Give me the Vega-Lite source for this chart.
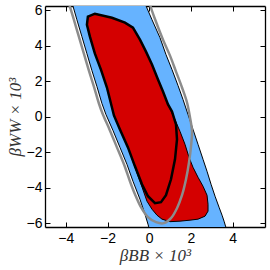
{
 "$schema": "https://vega.github.io/schema/vega-lite/v6.json",
 "width": 220, "height": 221,
 "autosize": {"type": "none"},
 "padding": {"left": 45, "top": 6, "right": 5, "bottom": 43},
 "background": "white",
 "config": {
  "view": {"stroke": null},
  "axis": {"domainColor": "black", "domainWidth": 1.3, "tickColor": "black", "tickWidth": 1, "grid": false,
           "labelFont": "Liberation Sans", "labelFontSize": 14, "labelColor": "black",
           "titleFont": "Liberation Serif", "titleFontStyle": "italic", "titleFontWeight": "normal", "titleFontSize": 17, "titleColor": "#333"}
 },
 "datasets": {
  "blue": [
   {"i":0,"x":-3.759,"y":6.601},{"i":1,"x":-0.278,"y":6.601},{"i":2,"x":-0.158,"y":6.264},{"i":3,"x":0.130,"y":5.478},
   {"i":4,"x":0.514,"y":4.466},{"i":5,"x":0.802,"y":3.511},{"i":6,"x":1.090,"y":2.669},{"i":7,"x":1.378,"y":1.770},
   {"i":8,"x":1.618,"y":0.983},{"i":9,"x":1.858,"y":0.140},{"i":10,"x":2.098,"y":-0.702},{"i":11,"x":2.338,"y":-1.545},
   {"i":12,"x":2.578,"y":-2.388},{"i":13,"x":2.770,"y":-3.062},{"i":14,"x":2.962,"y":-3.792},{"i":15,"x":3.154,"y":-4.466},
   {"i":16,"x":3.346,"y":-5.084},{"i":17,"x":3.490,"y":-5.534},{"i":18,"x":3.586,"y":-5.871},{"i":19,"x":3.730,"y":-6.433},
   {"i":20,"x":0.034,"y":-6.433},{"i":21,"x":-0.062,"y":-6.039},{"i":22,"x":-0.206,"y":-5.478},{"i":23,"x":-0.446,"y":-4.635},
   {"i":24,"x":-0.782,"y":-3.624},{"i":25,"x":-1.070,"y":-2.669},{"i":26,"x":-1.406,"y":-1.714},{"i":27,"x":-1.742,"y":-0.758},
   {"i":28,"x":-2.079,"y":0.140},{"i":29,"x":-2.270,"y":0.758},{"i":30,"x":-2.510,"y":1.714},{"i":31,"x":-2.750,"y":2.612},
   {"i":32,"x":-2.990,"y":3.567},{"i":33,"x":-3.230,"y":4.522},{"i":34,"x":-3.471,"y":5.478},{"i":35,"x":-3.663,"y":6.264},
   {"i":36,"x":-3.759,"y":6.601}
  ],
  "red": [
   {"i":0,"x":-2.943,"y":5.646},{"i":1,"x":-2.607,"y":5.815},{"i":2,"x":-1.790,"y":5.590},{"i":3,"x":-1.166,"y":5.309},
   {"i":4,"x":-0.782,"y":5.028},{"i":5,"x":-0.446,"y":4.354},{"i":6,"x":-0.158,"y":3.680},{"i":7,"x":0.130,"y":2.949},
   {"i":8,"x":0.418,"y":2.107},{"i":9,"x":0.658,"y":1.433},{"i":10,"x":0.898,"y":0.702},{"i":11,"x":1.186,"y":-0.028},
   {"i":12,"x":1.474,"y":-0.815},{"i":13,"x":1.714,"y":-1.545},{"i":14,"x":1.906,"y":-2.275},{"i":15,"x":2.098,"y":-2.837},
   {"i":16,"x":2.338,"y":-3.399},{"i":17,"x":2.578,"y":-3.905},{"i":18,"x":2.770,"y":-4.410},{"i":19,"x":2.818,"y":-4.916},
   {"i":20,"x":2.818,"y":-5.309},{"i":21,"x":2.674,"y":-5.590},{"i":22,"x":2.338,"y":-5.758},{"i":23,"x":1.954,"y":-5.815},
   {"i":24,"x":1.474,"y":-5.871},{"i":25,"x":0.994,"y":-5.899},{"i":26,"x":0.610,"y":-5.758},{"i":27,"x":0.370,"y":-5.534},
   {"i":28,"x":0.130,"y":-5.197},{"i":29,"x":-0.110,"y":-4.747},{"i":30,"x":-0.446,"y":-3.624},{"i":31,"x":-1.022,"y":-1.714},
   {"i":32,"x":-1.406,"y":-0.702},{"i":33,"x":-1.694,"y":0.084},{"i":34,"x":-2.030,"y":1.657},{"i":35,"x":-2.318,"y":2.669},
   {"i":36,"x":-2.607,"y":3.567},{"i":37,"x":-2.846,"y":4.522},{"i":38,"x":-2.990,"y":5.197},{"i":39,"x":-2.943,"y":5.646}
  ],
  "inner": [
   {"i":0,"x":-0.686,"y":-2.781},{"i":1,"x":-0.350,"y":-3.792},{"i":2,"x":-0.062,"y":-4.466},{"i":3,"x":0.274,"y":-4.860},
   {"i":4,"x":0.562,"y":-4.803},{"i":5,"x":0.802,"y":-4.410},{"i":6,"x":1.042,"y":-3.511},{"i":7,"x":1.234,"y":-2.388},
   {"i":8,"x":1.330,"y":-1.264},{"i":9,"x":1.282,"y":-0.421},{"i":10,"x":1.090,"y":0.309},{"i":11,"x":0.898,"y":0.702},
   {"i":12,"x":0.658,"y":1.433},{"i":13,"x":0.418,"y":2.107},{"i":14,"x":0.130,"y":2.949},{"i":15,"x":-0.158,"y":3.680},
   {"i":16,"x":-0.446,"y":4.354},{"i":17,"x":-0.782,"y":5.028},{"i":18,"x":-1.166,"y":5.309},{"i":19,"x":-1.790,"y":5.590},
   {"i":20,"x":-2.607,"y":5.815},{"i":21,"x":-2.943,"y":5.646},{"i":22,"x":-2.990,"y":5.197},{"i":23,"x":-2.846,"y":4.522},
   {"i":24,"x":-2.607,"y":3.567},{"i":25,"x":-2.318,"y":2.669},{"i":26,"x":-2.030,"y":1.657},{"i":27,"x":-1.694,"y":0.084},
   {"i":28,"x":-1.406,"y":-0.702},{"i":29,"x":-1.022,"y":-1.714},{"i":30,"x":-0.686,"y":-2.781}
  ],
  "gray": [
   {"i":0,"x":-3.903,"y":6.601},{"i":1,"x":-3.615,"y":5.478},{"i":2,"x":-3.375,"y":4.522},{"i":3,"x":-3.134,"y":3.567},
   {"i":4,"x":-2.894,"y":2.612},{"i":5,"x":-2.654,"y":1.714},{"i":6,"x":-2.414,"y":0.758},{"i":7,"x":-2.222,"y":0.140},
   {"i":8,"x":-1.886,"y":-0.758},{"i":9,"x":-1.550,"y":-1.714},{"i":10,"x":-1.214,"y":-2.669},{"i":11,"x":-0.926,"y":-3.624},
   {"i":12,"x":-0.686,"y":-4.354},{"i":13,"x":-0.398,"y":-5.084},{"i":14,"x":-0.062,"y":-5.646},{"i":15,"x":0.322,"y":-5.927},
   {"i":16,"x":0.706,"y":-5.983},{"i":17,"x":1.042,"y":-5.702},{"i":18,"x":1.330,"y":-5.140},{"i":19,"x":1.570,"y":-4.410},
   {"i":20,"x":1.762,"y":-3.511},{"i":21,"x":1.906,"y":-2.556},{"i":22,"x":2.002,"y":-1.657},{"i":23,"x":2.050,"y":-0.815},
   {"i":24,"x":1.954,"y":-0.028},{"i":25,"x":1.810,"y":0.815},{"i":26,"x":1.570,"y":1.657},{"i":27,"x":1.282,"y":2.556},
   {"i":28,"x":0.994,"y":3.455},{"i":29,"x":0.658,"y":4.354},{"i":30,"x":0.322,"y":5.365},{"i":31,"x":0.082,"y":6.152},
   {"i":32,"x":-0.014,"y":6.601}
  ]
 },
 "resolve": {"axis": {"x": "independent", "y": "independent"}},
 "layer": [
  {
   "data": {"name": "blue"},
   "mark": {"type": "line", "fill": "#66b3ff", "stroke": "black", "strokeWidth": 1, "clip": true},
   "encoding": {
    "x": {"field": "x", "type": "quantitative", "scale": {"domain": [-5, 5.55], "nice": false, "zero": false},
          "axis": {"orient": "bottom", "values": [-4, -2, 0, 2, 4], "title": "βBB × 10³", "tickSize": -5, "labelPadding": 9, "titlePadding": 2}},
    "y": {"field": "y", "type": "quantitative", "scale": {"domain": [-6.2, 6.25], "nice": false, "zero": false},
          "axis": {"orient": "left", "values": [-6, -4, -2, 0, 2, 4, 6], "title": "βWW × 10³", "tickSize": -5, "labelPadding": 8, "titlePadding": 2}},
    "order": {"field": "i", "type": "quantitative"}
   }
  },
  {
   "data": {"name": "red"},
   "mark": {"type": "line", "fill": "#d40000", "stroke": "black", "strokeWidth": 1, "clip": true},
   "encoding": {
    "x": {"field": "x", "type": "quantitative", "axis": null},
    "y": {"field": "y", "type": "quantitative", "axis": null},
    "order": {"field": "i", "type": "quantitative"}
   }
  },
  {
   "data": {"name": "inner"},
   "mark": {"type": "line", "stroke": "black", "strokeWidth": 2.5, "clip": true, "interpolate": "linear"},
   "encoding": {
    "x": {"field": "x", "type": "quantitative", "axis": null},
    "y": {"field": "y", "type": "quantitative", "axis": null},
    "order": {"field": "i", "type": "quantitative"}
   }
  },
  {
   "data": {"name": "gray"},
   "mark": {"type": "line", "stroke": "#8c8c8c", "strokeWidth": 2.5, "clip": true, "interpolate": "catmull-rom"},
   "encoding": {
    "x": {"field": "x", "type": "quantitative",
          "axis": {"orient": "top", "values": [-4, -2, 0, 2, 4], "labels": false, "title": null, "tickSize": -5}},
    "y": {"field": "y", "type": "quantitative",
          "axis": {"orient": "right", "values": [-6, -4, -2, 0, 2, 4, 6], "labels": false, "title": null, "tickSize": -5}},
    "order": {"field": "i", "type": "quantitative"}
   }
  }
 ]
}
